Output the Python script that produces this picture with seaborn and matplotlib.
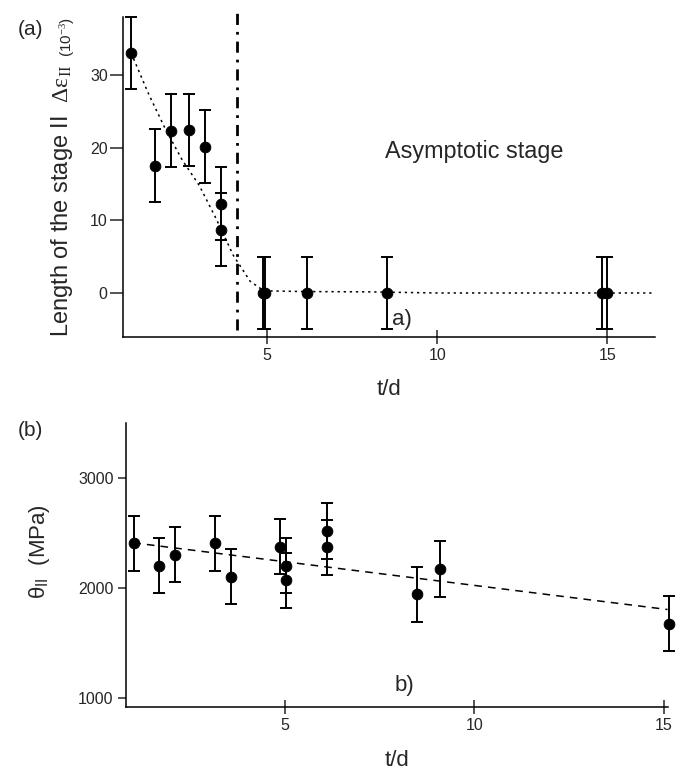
import numpy as np
import pandas as pd
import matplotlib
matplotlib.use("Agg")
import matplotlib.pyplot as plt
import seaborn as sns

# Style: plain white, ticks only
sns.set_style("ticks")
plt.rcParams['font.family'] = ['Liberation Sans', 'DejaVu Sans']
plt.rcParams['mathtext.fontset'] = 'custom'
plt.rcParams['mathtext.rm'] = 'Liberation Serif'
plt.rcParams['mathtext.it'] = 'Liberation Serif:italic'
plt.rcParams['mathtext.sf'] = 'Liberation Sans'

# ---- data, panel (a): length of stage II vs t/d ----
a_td = [1.0, 1.71, 2.16, 2.71, 3.18, 3.64, 3.64, 4.88, 4.93, 6.17, 8.52, 14.85, 15.0]
a_len = [33.0, 17.5, 22.3, 22.4, 20.1, 12.3, 8.7, 0.0, 0.0, 0.0, 0.0, 0.0, 0.0]
a_err = [5, 5, 5, 5, 5, 5, 5, 5, 5, 5, 5, 5, 5]
# dotted guide curve
a_fit_td = [1.0, 1.5, 2.0, 2.5, 3.0, 3.5, 4.0, 4.5, 4.9, 6.0, 8.0, 10.0, 12.0, 14.0, 16.4]
a_fit_len = [33.0, 27.5, 22.6, 18.3, 14.8, 10.2, 5.2, 1.6, 0.3, 0.2, 0.15, 0.0, 0.0, 0.0, 0.0]
stage_limit = 4.1

# ---- data, panel (b): theta_II vs t/d ----
b_td = [1.02, 1.69, 2.10, 3.15, 3.58, 4.87, 5.02, 5.02, 6.12, 6.12, 8.49, 9.09, 15.15]
b_theta = [2405, 2202, 2302, 2405, 2102, 2374, 2202, 2070, 2517, 2369, 1943, 2172, 1676]
b_err = [250] * 13
b_fit_td = [1.0, 15.1]
b_fit_theta = [2410, 1805]

df_a = pd.DataFrame({'td': a_td, 'val': a_len, 'err': a_err})
df_b = pd.DataFrame({'td': b_td, 'val': b_theta, 'err': b_err})

fig = plt.figure(figsize=(6.86, 7.75), dpi=100)
ax1 = fig.add_axes([0.1793, 0.5652, 0.7755, 0.4133])
ax2 = fig.add_axes([0.1837, 0.0881, 0.7905, 0.3657])

# ---- panel (a) ----
sns.lineplot(x=a_fit_td, y=a_fit_len, ax=ax1, color='black', lw=1.1,
             linestyle=(0, (1.5, 2.5)), sort=False)
ax1.errorbar(df_a['td'], df_a['val'], yerr=df_a['err'], fmt='none',
             ecolor='black', elinewidth=1.4, capsize=4.5, capthick=1.4, clip_on=False)
sns.scatterplot(data=df_a, x='td', y='val', ax=ax1, color='black', s=60,
                edgecolor='black', zorder=3, clip_on=False)
ax1.plot([stage_limit, stage_limit], [-5.1, 38.5], color='black', lw=2.0,
         linestyle=(0, (4, 2.5, 1, 2.5)), clip_on=False)
ax1.set_xlim(0.76, 16.4)
ax1.set_ylim(-6.05, 38.0)
ax1.set_xticks([5, 10, 15])
ax1.set_yticks([0, 10, 20, 30])
ax1.tick_params(axis='x', direction='inout', length=9.5, width=1.1, labelsize=11.5, pad=3)
ax1.tick_params(axis='y', direction='out', length=9.5, width=1.1, labelsize=11.5, pad=1.5)
ax1.set_xlabel('t/d', fontsize=16, labelpad=12)
ax1.set_ylabel('')
ax1.text(8.47, 19.4, 'Asymptotic stage', fontsize=16.8, va='center', ha='left')
ax1.text(8.68, -3.6, 'a)', fontsize=16, va='center', ha='left')

# ---- panel (b) ----
sns.lineplot(x=b_fit_td, y=b_fit_theta, ax=ax2, color='black', lw=1.1,
             linestyle=(0, (5, 4)))
ax2.errorbar(df_b['td'], df_b['val'], yerr=df_b['err'], fmt='none',
             ecolor='black', elinewidth=1.4, capsize=4.5, capthick=1.4, clip_on=False)
sns.scatterplot(data=df_b, x='td', y='val', ax=ax2, color='black', s=60,
                edgecolor='black', zorder=3, clip_on=False)
ax2.set_xlim(0.81, 15.12)
ax2.set_ylim(924, 3493)
ax2.set_xticks([5, 10, 15])
ax2.set_yticks([1000, 2000, 3000])
ax2.tick_params(axis='x', direction='inout', length=10, width=1.1, labelsize=11.5, pad=3)
ax2.tick_params(axis='y', direction='out', length=5.5, width=1.1, labelsize=11.5, pad=3.5)
ax2.set_xlabel('t/d', fontsize=16, labelpad=12)
ax2.set_ylabel('')
ax2.text(7.9, 1120, 'b)', fontsize=16, va='center', ha='left')

for ax in (ax1, ax2):
    sns.despine(ax=ax)
    for side in ('left', 'bottom'):
        ax.spines[side].set_linewidth(1.1)
        ax.spines[side].set_color('black')

# y label of panel (a) built from two pieces, like the original
fig.text(0.09, 0.5652, r'Length of the stage II  $\Delta\mathrm{\varepsilon}_{\rm II}$',
         rotation=90, fontsize=17, ha='center', va='bottom')
fig.text(0.099, 0.926, r'(10$^{-3}$)', rotation=90, fontsize=11,
         ha='center', va='bottom')
# y label of panel (b)
fig.text(0.057, 0.289, r'θ$_{\mathsf{II}}$  (MPa)', rotation=90, fontsize=16,
         ha='center', va='center')

# panel tags
fig.text(0.026, 0.962, '(a)', fontsize=15, ha='left', va='center')
fig.text(0.026, 0.445, '(b)', fontsize=15, ha='left', va='center')

fig.savefig('out.png', dpi=100)
